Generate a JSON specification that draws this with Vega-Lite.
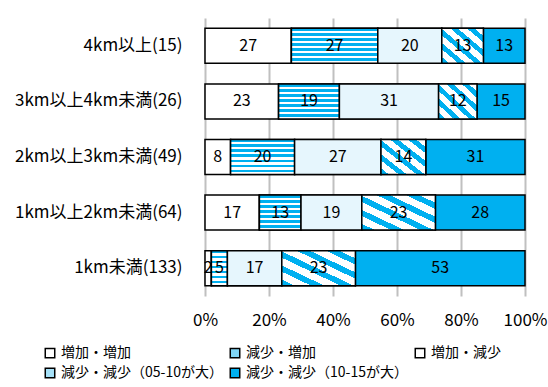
{
  "$schema": "https://vega.github.io/schema/vega-lite/v6.json",
  "width": 320,
  "height": 278,
  "autosize": "none",
  "padding": {"left": 205, "top": 18, "right": 23, "bottom": 91},
  "background": "white",
  "config": {
    "font": "Noto Sans CJK JP",
    "view": {"stroke": null}
  },
  "data": {
    "values": [
      {"dist": "4km以上(15)", "cat": "増加・増加", "order": 1, "value": 27},
      {"dist": "4km以上(15)", "cat": "減少・増加", "order": 2, "value": 27},
      {"dist": "4km以上(15)", "cat": "増加・減少", "order": 3, "value": 20},
      {"dist": "4km以上(15)", "cat": "減少・減少（05-10が大）", "order": 4, "value": 13},
      {"dist": "4km以上(15)", "cat": "減少・減少（10-15が大）", "order": 5, "value": 13},
      {"dist": "3km以上4km未満(26)", "cat": "増加・増加", "order": 1, "value": 23},
      {"dist": "3km以上4km未満(26)", "cat": "減少・増加", "order": 2, "value": 19},
      {"dist": "3km以上4km未満(26)", "cat": "増加・減少", "order": 3, "value": 31},
      {"dist": "3km以上4km未満(26)", "cat": "減少・減少（05-10が大）", "order": 4, "value": 12},
      {"dist": "3km以上4km未満(26)", "cat": "減少・減少（10-15が大）", "order": 5, "value": 15},
      {"dist": "2km以上3km未満(49)", "cat": "増加・増加", "order": 1, "value": 8},
      {"dist": "2km以上3km未満(49)", "cat": "減少・増加", "order": 2, "value": 20},
      {"dist": "2km以上3km未満(49)", "cat": "増加・減少", "order": 3, "value": 27},
      {"dist": "2km以上3km未満(49)", "cat": "減少・減少（05-10が大）", "order": 4, "value": 14},
      {"dist": "2km以上3km未満(49)", "cat": "減少・減少（10-15が大）", "order": 5, "value": 31},
      {"dist": "1km以上2km未満(64)", "cat": "増加・増加", "order": 1, "value": 17},
      {"dist": "1km以上2km未満(64)", "cat": "減少・増加", "order": 2, "value": 13},
      {"dist": "1km以上2km未満(64)", "cat": "増加・減少", "order": 3, "value": 19},
      {"dist": "1km以上2km未満(64)", "cat": "減少・減少（05-10が大）", "order": 4, "value": 23},
      {"dist": "1km以上2km未満(64)", "cat": "減少・減少（10-15が大）", "order": 5, "value": 28},
      {"dist": "1km未満(133)", "cat": "増加・増加", "order": 1, "value": 2},
      {"dist": "1km未満(133)", "cat": "減少・増加", "order": 2, "value": 5},
      {"dist": "1km未満(133)", "cat": "増加・減少", "order": 3, "value": 17},
      {"dist": "1km未満(133)", "cat": "減少・減少（05-10が大）", "order": 4, "value": 23},
      {"dist": "1km未満(133)", "cat": "減少・減少（10-15が大）", "order": 5, "value": 53}
    ]
  },
  "transform": [
    {"stack": "value", "groupby": ["dist"], "sort": [{"field": "order", "order": "ascending"}], "as": ["x0", "x1"]},
    {"calculate": "(datum.x0 + datum.x1) / 2", "as": "xm"}
  ],
  "encoding": {
    "y": {
      "field": "dist",
      "type": "nominal",
      "sort": ["4km以上(15)", "3km以上4km未満(26)", "2km以上3km未満(49)", "1km以上2km未満(64)", "1km未満(133)"],
      "scale": {"paddingInner": 0.37, "paddingOuter": 0.185},
      "axis": {
        "title": null,
        "domain": false,
        "ticks": false,
        "labelPadding": 23,
        "labelFontSize": 17,
        "labelColor": "#000000",
        "labelFont": "Noto Sans CJK JP"
      }
    }
  },
  "layer": [
    {
      "mark": {"type": "bar", "stroke": "#000000", "strokeWidth": 1.5},
      "encoding": {
        "x": {
          "field": "x0",
          "type": "quantitative",
          "scale": {"domain": [0, 100], "nice": false},
          "axis": {
            "title": null,
            "values": [0, 20, 40, 60, 80, 100],
            "labelExpr": "datum.value + '%'",
            "labelFontSize": 17,
            "labelColor": "#000000",
            "labelPadding": 16,
            "labelFlush": false,
            "domain": false,
            "ticks": false,
            "grid": true,
            "gridColor": "#c0c0c0",
            "gridWidth": 2
          }
        },
        "x2": {"field": "x1"},
        "fill": {
          "field": "cat",
          "type": "nominal",
          "scale": {
            "domain": ["増加・増加", "減少・増加", "増加・減少", "減少・減少（05-10が大）", "減少・減少（10-15が大）"],
            "range": ["#ffffff", "#80d6f6", "#ffffff", "#a6e1f8", "#00b0f0"]
          },
          "legend": {
            "title": null,
            "orient": "none",
            "legendX": -162,
            "legendY": 328,
            "direction": "horizontal",
            "columns": 3,
            "gridAlign": "all",
            "columnPadding": 4,
            "rowPadding": 4,
            "symbolType": "square",
            "symbolSize": 90,
            "symbolStrokeColor": "#000000",
            "symbolStrokeWidth": 1.5,
            "symbolOffset": 0,
            "labelOffset": 4,
            "labelFontSize": 14,
            "labelColor": "#000000",
            "labelLimit": 200,
            "labelFont": "Noto Sans CJK JP"
          }
        }
      }
    },
    {
      "transform": [{"filter": "datum.cat === '減少・増加'"}],
      "mark": {
        "type": "bar",
        "stroke": "#000000",
        "strokeWidth": 1.5,
        "fill": {
          "gradient": "linear",
          "x1": 0, "y1": 0, "x2": 0, "y2": 1,
          "stops": [
            {"offset": 0, "color": "#00b0f0"}, {"offset": 0.0786, "color": "#00b0f0"}, {"offset": 0.0786, "color": "#ffffff"}, {"offset": 0.1429, "color": "#ffffff"},
            {"offset": 0.1429, "color": "#00b0f0"}, {"offset": 0.2214, "color": "#00b0f0"}, {"offset": 0.2214, "color": "#ffffff"}, {"offset": 0.2857, "color": "#ffffff"},
            {"offset": 0.2857, "color": "#00b0f0"}, {"offset": 0.3643, "color": "#00b0f0"}, {"offset": 0.3643, "color": "#ffffff"}, {"offset": 0.4286, "color": "#ffffff"},
            {"offset": 0.4286, "color": "#00b0f0"}, {"offset": 0.5071, "color": "#00b0f0"}, {"offset": 0.5071, "color": "#ffffff"}, {"offset": 0.5714, "color": "#ffffff"},
            {"offset": 0.5714, "color": "#00b0f0"}, {"offset": 0.65, "color": "#00b0f0"}, {"offset": 0.65, "color": "#ffffff"}, {"offset": 0.7143, "color": "#ffffff"},
            {"offset": 0.7143, "color": "#00b0f0"}, {"offset": 0.7929, "color": "#00b0f0"}, {"offset": 0.7929, "color": "#ffffff"}, {"offset": 0.8571, "color": "#ffffff"},
            {"offset": 0.8571, "color": "#00b0f0"}, {"offset": 0.9357, "color": "#00b0f0"}, {"offset": 0.9357, "color": "#ffffff"}, {"offset": 1, "color": "#ffffff"}
          ]
        }
      },
      "encoding": {
        "x": {"field": "x0", "type": "quantitative"},
        "x2": {"field": "x1"}
      }
    },
    {
      "transform": [{"filter": "datum.cat === '増加・減少'"}],
      "mark": {"type": "bar", "stroke": "#000000", "strokeWidth": 1.5, "fill": "#e6f6fd"},
      "encoding": {
        "x": {"field": "x0", "type": "quantitative"},
        "x2": {"field": "x1"}
      }
    },
    {
      "transform": [{"filter": "datum.cat === '減少・減少（05-10が大）'"}],
      "mark": {
        "type": "bar",
        "stroke": "#000000",
        "strokeWidth": 1.5,
        "fill": {
          "gradient": "linear",
          "x1": 0, "y1": 1, "x2": 1, "y2": 0,
          "stops": [
            {"offset": 0, "color": "#00b0f0"}, {"offset": 0.09, "color": "#00b0f0"}, {"offset": 0.09, "color": "#ffffff"}, {"offset": 0.2, "color": "#ffffff"},
            {"offset": 0.2, "color": "#00b0f0"}, {"offset": 0.29, "color": "#00b0f0"}, {"offset": 0.29, "color": "#ffffff"}, {"offset": 0.4, "color": "#ffffff"},
            {"offset": 0.4, "color": "#00b0f0"}, {"offset": 0.49, "color": "#00b0f0"}, {"offset": 0.49, "color": "#ffffff"}, {"offset": 0.6, "color": "#ffffff"},
            {"offset": 0.6, "color": "#00b0f0"}, {"offset": 0.69, "color": "#00b0f0"}, {"offset": 0.69, "color": "#ffffff"}, {"offset": 0.8, "color": "#ffffff"},
            {"offset": 0.8, "color": "#00b0f0"}, {"offset": 0.89, "color": "#00b0f0"}, {"offset": 0.89, "color": "#ffffff"}, {"offset": 1, "color": "#ffffff"}
          ]
        }
      },
      "encoding": {
        "x": {"field": "x0", "type": "quantitative"},
        "x2": {"field": "x1"}
      }
    },
    {
      "mark": {"type": "text", "fontSize": 16, "color": "#000000", "font": "Noto Sans CJK JP", "baseline": "middle", "align": "center"},
      "encoding": {
        "x": {"field": "xm", "type": "quantitative"},
        "text": {"field": "value", "type": "quantitative"}
      }
    }
  ]
}
